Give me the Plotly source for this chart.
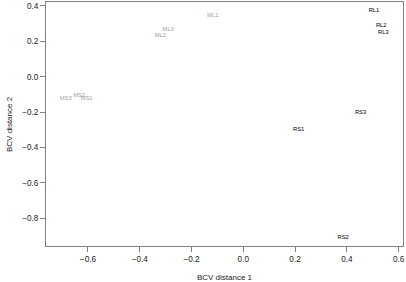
import plotly.graph_objects as go

# MDS coordinates
gray_labels = ["ML1", "ML2", "ML3", "MS1", "MS2", "MS3"]
gray_x = [-0.118, -0.32, -0.29, -0.605, -0.634, -0.686]
gray_y = [0.345, 0.234, 0.268, -0.122, -0.108, -0.122]

black_labels = ["RL1", "RL2", "RL3", "RS1", "RS2", "RS3"]
black_x = [0.505, 0.533, 0.541, 0.214, 0.386, 0.453]
black_y = [0.375, 0.288, 0.247, -0.297, -0.907, -0.205]

x_ticks = [-0.6, -0.4, -0.2, 0.0, 0.2, 0.4, 0.6]
y_ticks = [0.4, 0.2, 0.0, -0.2, -0.4, -0.6, -0.8]

FONT = "Liberation Sans, Arial, sans-serif"
W, H = 406, 282
ML, MR, MT, MB = 46, 3, 2, 36

fig = go.Figure()
fig.add_trace(go.Scatter(x=gray_x, y=gray_y, text=gray_labels, mode="text",
                         textfont=dict(family=FONT, size=5.8, color="#a0a0a0"),
                         hoverinfo="skip", showlegend=False, cliponaxis=False))
fig.add_trace(go.Scatter(x=black_x, y=black_y, text=black_labels, mode="text",
                         textfont=dict(family=FONT, size=5.8, color="#000000"),
                         hoverinfo="skip", showlegend=False, cliponaxis=False))

axis_common = dict(showgrid=False, zeroline=False, showline=True, mirror=True,
                   linecolor="#808080", linewidth=1, ticks="outside", ticklen=5,
                   tickcolor="#808080", tickwidth=1, automargin=False,
                   tickfont=dict(family=FONT, size=8.2, color="#222222"))

fig.update_xaxes(range=[-0.762, 0.617], tickvals=x_ticks,
                 ticktext=[f"{v:.1f}".replace("-", "\u2212") for v in x_ticks],
                 title=dict(text="BCV distance 1", font=dict(family=FONT, size=8, color="#222222")),
                 **axis_common)
fig.update_yaxes(range=[-0.957, 0.422], tickvals=y_ticks,
                 ticktext=[f"{v:.1f}".replace("-", "\u2212") for v in y_ticks],
                 **axis_common)

plot_w = W - ML - MR
fig.add_annotation(text="BCV distance 2", xref="paper", yref="paper",
                   x=(9 - ML) / plot_w, y=0.5, xanchor="center", yanchor="middle",
                   textangle=-90, showarrow=False,
                   font=dict(family=FONT, size=8, color="#222222"))

fig.update_layout(width=W, height=H, margin=dict(l=ML, r=MR, t=MT, b=MB),
                  plot_bgcolor="white", paper_bgcolor="white")

fig.write_html("out.html", config={"displayModeBar": False},
               post_script="document.body.style.margin='0px';")
